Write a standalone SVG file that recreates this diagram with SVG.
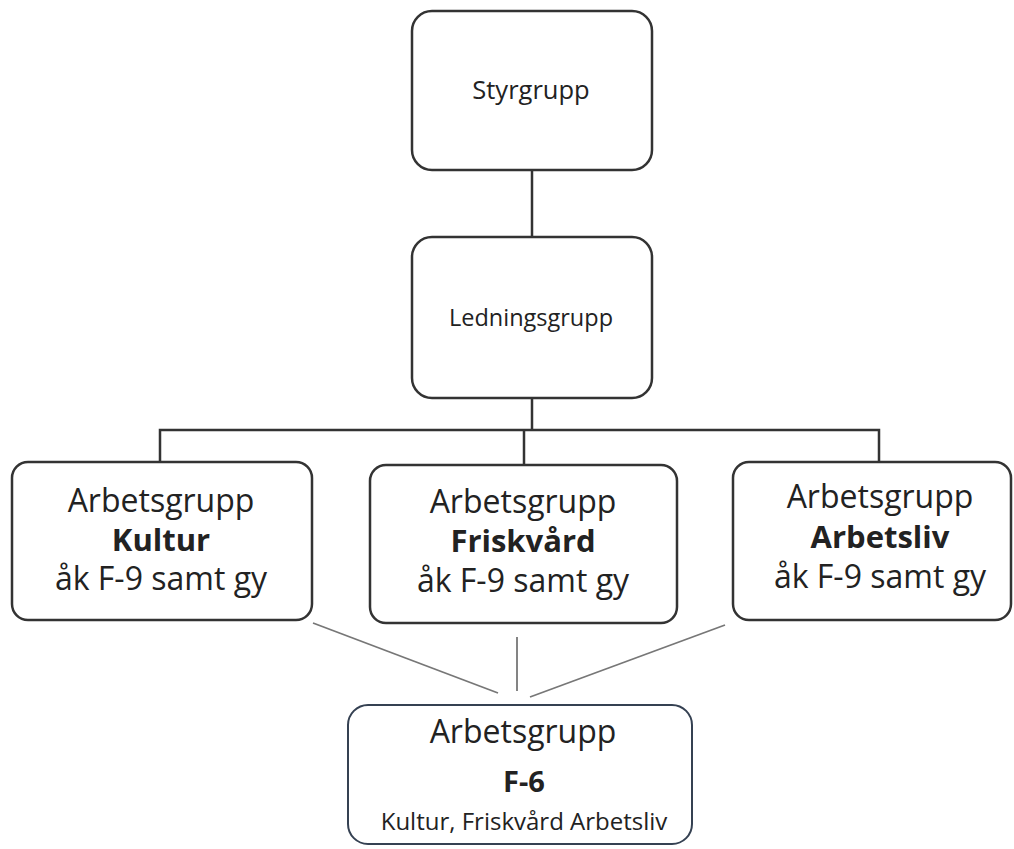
<svg xmlns="http://www.w3.org/2000/svg" width="1014" height="849" viewBox="0 0 1014 849">
<style>
.box{fill:#fff;stroke:#333;stroke-width:2.5}
.boxb{fill:#fff;stroke:#354152;stroke-width:2}
.t{font-family:"Open Sans","Liberation Sans",sans-serif;fill:#222;text-anchor:middle}
.b{font-weight:bold}
.conn{fill:none;stroke:#333;stroke-width:2.5}
.thin{fill:none;stroke:#777;stroke-width:1.8}
</style>
<rect width="1014" height="849" fill="#fff"/>
<g id="connectors">
<path class="conn" d="M532 170V238"/>
<path class="conn" d="M532 398V430"/>
<path class="conn" d="M160 462V430H879V462"/>
<path class="conn" d="M524 430V465"/>
<path class="thin" d="M313 623L498 693"/>
<path class="thin" d="M517 637V691"/>
<path class="thin" d="M725 625L530 697"/>
</g>
<g id="styrgrupp">
<rect class="box" x="412" y="11" width="240" height="159" rx="20"/>
<text class="t" x="531" y="99" font-size="25.5">Styrgrupp</text>
</g>
<g id="ledningsgrupp">
<rect class="box" x="412" y="237" width="240" height="161" rx="20"/>
<text class="t" x="531" y="326" font-size="23.5">Ledningsgrupp</text>
</g>
<g id="kultur">
<rect class="box" x="12" y="462" width="300" height="158" rx="16"/>
<text class="t" x="161" y="512" font-size="32">Arbetsgrupp</text>
<text class="t b" x="161" y="551" font-size="31">Kultur</text>
<text class="t" x="161" y="590" font-size="32">åk F-9 samt gy</text>
</g>
<g id="friskvard">
<rect class="box" x="370" y="465" width="307" height="158" rx="16"/>
<text class="t" x="523" y="513" font-size="32">Arbetsgrupp</text>
<text class="t b" x="523" y="552" font-size="31">Friskvård</text>
<text class="t" x="523" y="592" font-size="32">åk F-9 samt gy</text>
</g>
<g id="arbetsliv">
<rect class="box" x="733" y="462" width="278" height="158" rx="16"/>
<text class="t" x="880" y="508" font-size="32">Arbetsgrupp</text>
<text class="t b" x="880" y="548" font-size="31">Arbetsliv</text>
<text class="t" x="880" y="588" font-size="32">åk F-9 samt gy</text>
</g>
<g id="f6">
<rect class="boxb" x="348" y="705" width="344" height="139" rx="20"/>
<text class="t" x="523" y="743" font-size="32">Arbetsgrupp</text>
<text class="t b" x="524" y="792" font-size="29">F-6</text>
<text class="t" x="524" y="830" font-size="24">Kultur, Friskvård Arbetsliv</text>
</g>
</svg>
